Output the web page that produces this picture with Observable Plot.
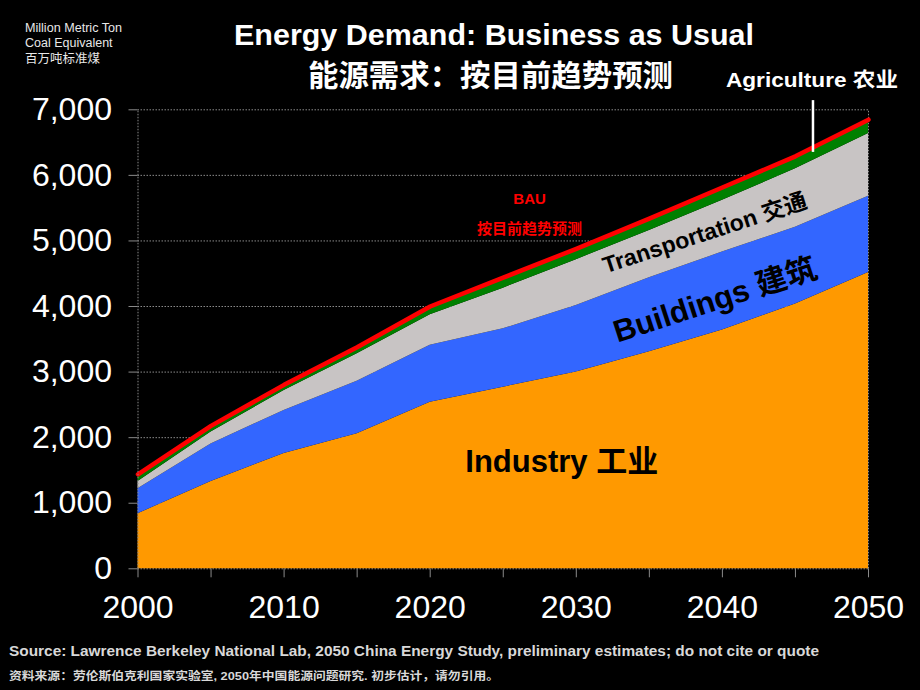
<!DOCTYPE html>
<html><head><meta charset="utf-8">
<script src="https://cdn.jsdelivr.net/npm/d3@7"></script>
<script src="https://cdn.jsdelivr.net/npm/@observablehq/plot@0.6"></script>
<style>
html,body{margin:0;padding:0;background:#000;}
#wrap{position:relative;width:920px;height:690px;overflow:hidden;background:#000;font-family:"Liberation Sans",Arial,"Noto Sans CJK SC",sans-serif;}
.t{position:absolute;white-space:nowrap;line-height:1;transform-origin:0 0;}
#chart{position:absolute;left:0;top:0;}
</style></head><body><div id="wrap"><div id="chart"></div></div>
<script>
// ---- data (million metric tons coal equivalent) ----
const years = [2000, 2005, 2010, 2015, 2020, 2025, 2030, 2035, 2040, 2045, 2050];
const industry = [840, 1330, 1760, 2060, 2540, 2770, 3000, 3310, 3640, 4040, 4520];
const buildings = [380, 575, 655, 800, 870, 890, 1015, 1130, 1190, 1170, 1160];
const transport = [110, 180, 305, 420, 465, 620, 700, 720, 790, 890, 960];
const agriculture = [110, 95, 85, 100, 125, 160, 165, 180, 195, 190, 210];
const sectors = ["Industry", "Buildings", "Transportation", "Agriculture"];
const yTicks = [0, 1000, 2000, 3000, 4000, 5000, 6000, 7000];
const xTicks = [2000, 2005, 2010, 2015, 2020, 2025, 2030, 2035, 2040, 2045, 2050];
const xLabels = [2000, 2010, 2020, 2030, 2040, 2050];

// ---- styles / annotations ----
const sectorColors = ["#ff9900", "#3366ff", "#c8c4c4", "#008000"];
const FONT = '"Liberation Sans", Arial, "Noto Sans CJK SC", sans-serif';

const seriesValues = [industry, buildings, transport, agriculture];
const rows = [];
sectors.forEach((s, i) => years.forEach((y, j) => rows.push({year: y, sector: s, value: seriesValues[i][j]})));
const totals = years.map((y, j) => ({year: y, total: d3.sum(seriesValues, v => v[j])}));

const inLabels = [
  {text: "Industry 工业", year: 2022.4, value: 1476, rotate: 0, size: 31, anchor: "start", line: "bottom", color: "#000"},
  {text: "Buildings 建筑", year: 2039.5, value: 4092, rotate: -18, size: 31, anchor: "middle", line: "middle", color: "#000"},
  {text: "Transportation 交通", year: 2038.8, value: 5114, rotate: -18, size: 23, anchor: "middle", line: "middle", color: "#000"},
  {text: "BAU", year: 2026.8, value: 5563, rotate: 0, size: 15, anchor: "middle", line: "bottom", color: "#ff0000"},
  {text: "按目前趋势预测", year: 2026.8, value: 5113, rotate: 0, size: 15, anchor: "middle", line: "bottom", color: "#ff0000"}
];
const pointer = [{year: 2046.2, from: 6350, to: 7140}];

const grid = "#8a8a8a";
const chart = Plot.plot({
  width: 920, height: 690,
  marginTop: 109.3, marginBottom: 121.7, marginLeft: 137.5, marginRight: 52,
  style: {background: "#000", color: "#fff", fontFamily: FONT, fontSize: "32px", overflow: "visible"},
  x: {domain: [2000, 2050], ticks: xTicks, tickFormat: d => xLabels.includes(d) ? String(d) : "", tickSize: 9, tickPadding: 17, label: null},
  y: {domain: [0, 7000], ticks: yTicks, tickFormat: d3.format(","), tickSize: 9, tickPadding: 17, label: null},
  color: {domain: sectors, range: sectorColors},
  marks: [
    Plot.ruleY(yTicks, {stroke: grid, strokeDasharray: "1.5,1.5", strokeWidth: 1}),
    Plot.ruleX([2050], {y1: 0, y2: 7000, stroke: grid, strokeDasharray: "1.5,1.5"}),
    Plot.areaY(rows, {x: "year", y: "value", fill: "sector", z: "sector"}),
    Plot.lineY(totals, {x: "year", y: "total", stroke: "#ff0000", strokeWidth: 4.5}),
    Plot.ruleX([2000], {y1: 0, y2: 7000, stroke: grid, strokeDasharray: "1.5,1.5"}),
    Plot.ruleX(pointer, {x: "year", y1: "from", y2: "to", stroke: "#fff", strokeWidth: 2.5}),
    ...inLabels.map(l => Plot.text([l], {x: "year", y: "value", text: "text", rotate: l.rotate, fontSize: l.size, fontWeight: "bold", textAnchor: l.anchor, lineAnchor: l.line, fill: l.color}))
  ]
});
chart.querySelectorAll('[aria-label^="y-axis"] line, [aria-label^="y-axis"] path, [aria-label^="x-axis"] line, [aria-label^="x-axis"] path')
  .forEach(e => e.setAttribute("stroke", grid));
document.getElementById("chart").appendChild(chart);

// ---- HTML texts ----
const wrap = document.getElementById("wrap");
function addText(txt, o) {
  const d = document.createElement("div");
  d.className = "t";
  d.textContent = txt;
  d.style.fontSize = o.size + "px";
  d.style.fontWeight = o.weight || "normal";
  d.style.color = o.color || "#fff";
  wrap.appendChild(d);
  const w = d.getBoundingClientRect().width;
  const sx = o.width ? o.width / w : 1;
  const left = o.center !== undefined ? o.center - w * sx / 2 : o.left;
  d.style.left = left + "px";
  d.style.top = (o.baseline - 0.8465 * o.size) + "px";
  if (sx !== 1) d.style.transform = `scaleX(${sx})`;
}
addText("Energy Demand: Business as Usual", {center: 494, baseline: 46, size: 29, weight: "bold", width: 520});
addText("能源需求：按目前趋势预测", {center: 490, baseline: 86, size: 30, weight: "bold", width: 365});
addText("Million Metric Ton", {left: 25, baseline: 32.5, size: 12.5, color: "#e8e8e8", width: 97});
addText("Coal Equivalent", {left: 25, baseline: 48, size: 12.5, color: "#e8e8e8"});
addText("百万吨标准煤", {left: 25, baseline: 63.5, size: 12.5, color: "#e8e8e8", width: 75});
addText("Agriculture 农业", {left: 726, baseline: 87, size: 20, weight: "bold", width: 172});
addText("Source:  Lawrence Berkeley National Lab, 2050 China Energy Study, preliminary estimates; do not cite or quote", {left: 9, baseline: 656, size: 14, weight: "bold", color: "#d8d8d8", width: 810});
addText("资料来源：劳伦斯伯克利国家实验室, 2050年中国能源问题研究. 初步估计，请勿引用。", {left: 9, baseline: 681, size: 11.5, weight: "bold", color: "#d8d8d8", width: 490});
</script></body></html>
